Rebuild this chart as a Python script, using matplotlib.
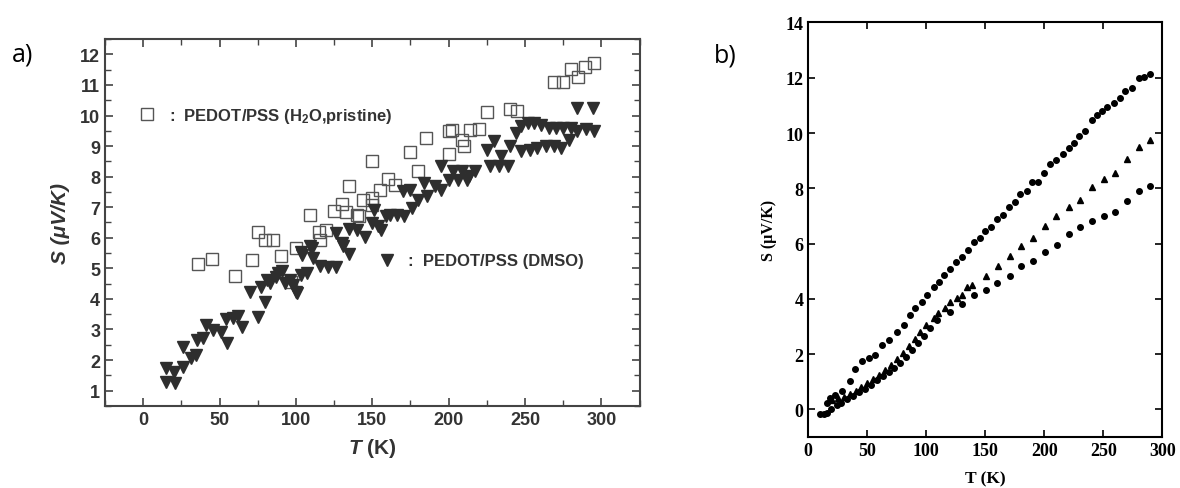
import numpy as np
import matplotlib
matplotlib.use("Agg")
import matplotlib.pyplot as plt
from matplotlib.ticker import MultipleLocator
from matplotlib.lines import Line2D

plt.rcParams['mathtext.fontset'] = 'custom'
plt.rcParams['mathtext.rm'] = 'Liberation Sans:bold'
plt.rcParams['mathtext.it'] = 'Liberation Sans:italic:bold'

# ---- data, panel a) ----
# PEDOT/PSS (H2O, pristine): open squares
sq_T = [36, 45, 60, 71, 75, 80, 85, 90, 97, 100, 109, 115, 116, 120, 125, 130, 133,
        135, 140, 141, 144, 150, 150, 150, 155, 160, 165, 175, 180, 185, 200, 200,
        202, 209, 210, 214, 220, 225, 240, 245, 269, 275, 280, 285, 289, 295]
sq_S = [5.14, 5.30, 4.75, 5.26, 6.20, 5.93, 5.93, 5.41, 4.55, 5.68, 6.75, 6.20, 5.93,
        6.26, 6.88, 7.11, 6.83, 7.70, 6.75, 6.72, 7.25, 7.06, 7.30, 8.52, 7.57, 7.92,
        7.74, 8.80, 8.17, 9.27, 9.49, 8.75, 9.52, 9.20, 9.00, 9.54, 9.56, 10.11,
        10.22, 10.14, 11.09, 11.09, 11.53, 11.27, 11.60, 11.73]

# PEDOT/PSS (DMSO): filled down-triangles
tri_T = [15, 21, 15, 20, 26, 26, 31, 35.5, 34.5, 41, 39, 46, 51, 55, 54, 59, 62, 65,
         75, 70, 80, 77, 81, 87, 91, 93, 100, 98, 104, 107, 103, 110.5, 111.5, 116,
         121, 126, 126, 131, 135, 134.5, 140, 145, 151, 150, 156, 161.5, 166, 88, 83,
         96, 103, 101, 109, 130, 154, 159, 171, 170, 175, 176, 180, 184, 186, 191,
         195, 195, 200, 203, 206, 209, 212, 213, 217, 225, 230, 227, 233, 239, 234,
         240, 244, 247.5, 252, 256, 260.5, 266, 270, 275, 280, 247.5, 253, 258, 264,
         269, 273.5, 279, 284, 284, 294.5, 290, 295]
tri_S = [1.29, 1.24, 1.73, 1.62, 2.44, 1.78, 2.06, 2.66, 2.16, 3.15, 2.71, 2.98, 2.93,
         2.55, 3.33, 3.37, 3.44, 3.09, 3.40, 4.24, 3.91, 4.40, 4.62, 4.73, 4.90, 4.51,
         4.24, 4.46, 5.44, 4.84, 5.55, 5.66, 5.33, 5.08, 5.04, 5.04, 6.15, 5.72, 5.48,
         6.28, 6.26, 6.04, 6.92, 6.48, 6.26, 6.76, 6.76, 4.84, 4.51, 4.62, 4.79, 4.19,
         5.72, 5.83, 6.37, 6.70, 6.70, 7.52, 7.57, 6.97, 7.25, 7.79, 7.35, 7.68, 8.34,
         7.57, 7.90, 8.17, 7.90, 8.17, 7.90, 8.01, 8.17, 8.88, 9.16, 8.34, 8.34, 8.34,
         8.67, 9.00, 9.43, 9.65, 9.76, 9.76, 9.70, 9.60, 9.60, 9.60, 9.60, 8.83, 8.88,
         8.94, 9.00, 9.00, 8.94, 9.21, 9.49, 10.25, 10.25, 9.56, 9.49]

# ---- data, panel b) ----
top_T = [15.8, 18.6, 22.9, 28.5, 35.6, 39.8, 45.5, 51.1, 56.8, 62.4, 68.1, 75.2, 80.8,
         86.4, 90.7, 96.4, 100.6, 106.2, 110.4, 114.7, 120.3, 125.4, 130.3, 135, 140.1,
         145.2, 150, 154.8, 159.9, 165, 170.3, 175.4, 179.7, 185.3, 189.6, 194.3, 200,
         204.5, 210.2, 215.5, 220.6, 225.4, 229, 234.7, 240.4, 244.6, 248.9, 253,
         258.7, 264.4, 268.6, 274.3, 279.9, 284.7, 289.8]
top_S = [0.24, 0.42, 0.54, 0.66, 1.02, 1.45, 1.74, 1.86, 1.98, 2.34, 2.52, 2.82, 3.06,
         3.42, 3.66, 3.90, 4.14, 4.44, 4.62, 4.86, 5.09, 5.34, 5.52, 5.78, 6.06, 6.20,
         6.47, 6.60, 6.90, 7.04, 7.32, 7.50, 7.80, 7.92, 8.22, 8.24, 8.54, 8.87, 9.03,
         9.23, 9.47, 9.65, 9.89, 10.07, 10.49, 10.67, 10.79, 10.95, 11.09, 11.27,
         11.51, 11.63, 11.99, 12.03, 12.15]

mid_T = [20, 25, 30, 35, 40, 45, 50, 55, 60, 65, 70, 75, 80, 85, 90, 95, 100, 106.2,
         109.6, 116.1, 120.3, 126, 130.3, 134.5, 138.7, 150.8, 160.8, 170.6, 180.2,
         190.4, 200.3, 210.2, 220.6, 230.5, 240.4, 250.3, 260.2, 270, 279.9, 289.8]
mid_S = [0.35, 0.40, 0.45, 0.55, 0.68, 0.80, 0.95, 1.10, 1.25, 1.42, 1.60, 1.82, 2.05,
         2.30, 2.55, 2.80, 3.05, 3.30, 3.48, 3.66, 3.90, 4.02, 4.14, 4.44, 4.50, 4.82,
         5.19, 5.55, 5.90, 6.21, 6.65, 7.01, 7.34, 7.58, 8.04, 8.33, 8.55, 9.05, 9.50,
         9.74]

low_T = [10, 13, 16, 19, 24, 28, 33, 38, 43, 48, 53, 58, 63, 68, 73, 78, 83, 88, 93, 98,
         103, 109, 120.3, 130.3, 140.1, 150.8, 159.9, 170.6, 180.2, 190.4, 200.3,
         210.7, 220.6, 230.5, 240.4, 250.3, 260.2, 270, 279.9, 289.8]
low_S = [-0.15, -0.15, -0.12, 0.0, 0.18, 0.25, 0.38, 0.50, 0.62, 0.75, 0.90, 1.05, 1.20,
         1.35, 1.50, 1.70, 1.90, 2.15, 2.40, 2.65, 2.95, 3.24, 3.54, 3.82, 4.14, 4.32,
         4.58, 4.82, 5.18, 5.36, 5.71, 5.96, 6.36, 6.60, 6.81, 7.01, 7.16, 7.56, 7.92,
         8.09]

fig = plt.figure(figsize=(11.8, 4.89), dpi=100)

#%% panel a)
sans = 'Liberation Sans'
ax1 = fig.add_axes([0.089, 0.168, 0.453, 0.750])
ax1.plot(sq_T, sq_S, ls='none', marker='s', ms=8, mfc='none', mec='#555555', mew=1.0)
ax1.plot(tri_T, tri_S, ls='none', marker='v', ms=8.5, color='#2e2e2e', mec='#2e2e2e')

ax1.set_xlim(-25, 325)
ax1.set_ylim(0.5, 12.5)
ax1.xaxis.set_major_locator(MultipleLocator(50))
ax1.xaxis.set_minor_locator(MultipleLocator(25))
ax1.yaxis.set_major_locator(MultipleLocator(1))
ax1.yaxis.set_minor_locator(MultipleLocator(0.5))
ax1.tick_params(which='both', direction='in', top=True, right=True, color='#444444')
ax1.tick_params(which='major', length=6, width=1.2)
ax1.tick_params(which='minor', length=4, width=1.0)
for lab in ax1.get_xticklabels() + ax1.get_yticklabels():
    lab.set_fontfamily(sans)
    lab.set_fontweight('bold')
    lab.set_fontsize(13)
    lab.set_color('#333333')
for sp in ax1.spines.values():
    sp.set_linewidth(1.5)
    sp.set_color('#444444')
ax1.set_xlabel(r'$\mathit{T}$ (K)', fontfamily=sans, fontweight='bold', fontsize=15,
               color='#333333', labelpad=6)
ax1.set_ylabel('S (\u03bcV/K)', fontfamily=sans, fontweight='bold', fontstyle='italic',
               fontsize=15, color='#333333', labelpad=7)

h_sq = Line2D([], [], ls='none', marker='s', ms=8, mfc='none', mec='#555555', mew=1.0)
h_tri = Line2D([], [], ls='none', marker='v', ms=8.5, color='#2e2e2e')
leg_font = {'family': sans, 'weight': 'bold', 'size': 12}
leg1 = ax1.legend([h_sq], [':  PEDOT/PSS (H$_2$O,pristine)'], loc='center left',
                  bbox_to_anchor=(0.060, 0.793), frameon=False, prop=leg_font,
                  handlelength=1.2, handletextpad=0.7, borderpad=0, borderaxespad=0)
for t in leg1.get_texts():
    t.set_color('#333333')
ax1.add_artist(leg1)
leg2 = ax1.legend([h_tri], [':  PEDOT/PSS (DMSO)'], loc='center left',
                  bbox_to_anchor=(0.508, 0.395), frameon=False, prop=leg_font,
                  handlelength=1.2, handletextpad=0.7, borderpad=0, borderaxespad=0)
for t in leg2.get_texts():
    t.set_color('#333333')

fig.text(0.010, 0.888, 'a)', fontsize=18, fontfamily='Open Sans', va='center')

#%% panel b)
serif = 'Liberation Serif'
ax2 = fig.add_axes([0.685, 0.104, 0.300, 0.848])
ax2.plot(top_T, top_S, ls='none', marker='o', ms=4, color='black')
ax2.plot(mid_T, mid_S, ls='none', marker='^', ms=4.6, color='black')
ax2.plot(low_T, low_S, ls='none', marker='o', ms=4, color='black')

ax2.set_xlim(0, 300)
ax2.set_ylim(-1, 14)
ax2.set_xticks(np.arange(0, 301, 50))
ax2.set_yticks(np.arange(0, 15, 2))
ax2.tick_params(direction='in', top=True, right=True, length=5, width=1.2)
for lab in ax2.get_xticklabels() + ax2.get_yticklabels():
    lab.set_fontfamily(serif)
    lab.set_fontweight('bold')
    lab.set_fontsize(13)
for sp in ax2.spines.values():
    sp.set_linewidth(1.5)
ax2.set_xlabel('T (K)', fontfamily=serif, fontweight='bold', fontsize=12.5, labelpad=8)
ax2.set_ylabel('S (\u03bcV/K)', fontfamily=serif, fontweight='bold', fontsize=11.5,
               labelpad=6)

fig.text(0.605, 0.885, 'b)', fontsize=18, fontfamily='Open Sans', va='center')

fig.savefig('out.png', dpi=100)
